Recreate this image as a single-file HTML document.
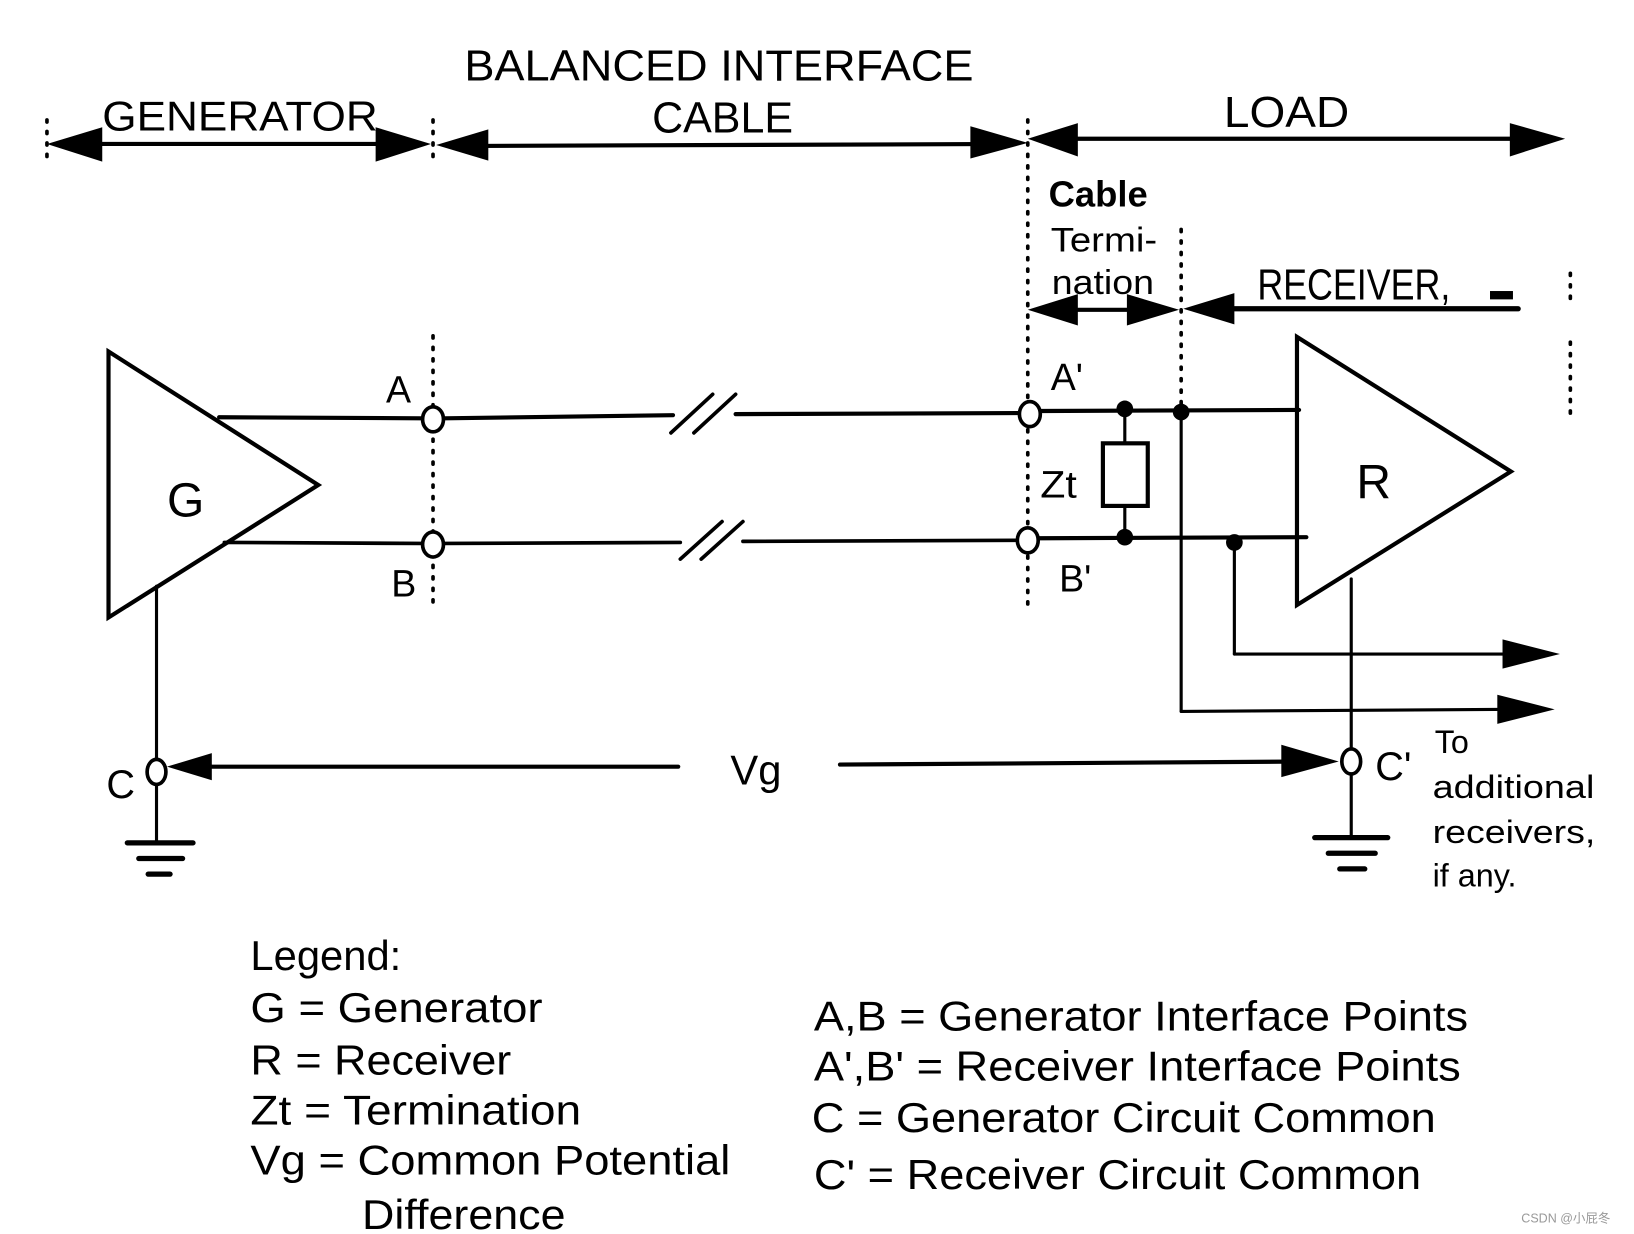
<!DOCTYPE html>
<html><head><meta charset="utf-8"><style>
html,body{margin:0;padding:0;background:#fff;}
svg{display:block;}
text{font-family:"Liberation Sans","Noto Sans CJK SC",sans-serif;fill:#000;}
</style></head><body>
<svg width="1634" height="1234" viewBox="0 0 1566 1183" preserveAspectRatio="none" xmlns="http://www.w3.org/2000/svg">
<g stroke="#000" fill="none" stroke-linecap="round">
<g stroke-width="3.5" stroke-dasharray="2 9">
<line x1="45" y1="115" x2="45" y2="150"/>
<line x1="415" y1="115" x2="415" y2="150"/>
<line x1="985" y1="115" x2="985" y2="585"/>
<line x1="1132" y1="220" x2="1132" y2="400"/>
<line x1="1505" y1="262" x2="1505" y2="292"/>
<line x1="1505" y1="328" x2="1505" y2="400"/>
<line x1="415" y1="322" x2="415" y2="585"/>
</g>
<line x1="60" y1="138" x2="400" y2="138" stroke-width="4"/>
<line x1="430" y1="140" x2="970" y2="138" stroke-width="4"/>
<line x1="1000" y1="133" x2="1485" y2="133" stroke-width="4"/>
<line x1="995" y1="297" x2="1120" y2="297" stroke-width="4"/>
<line x1="1145" y1="296" x2="1455" y2="296" stroke-width="5"/>
<line x1="210" y1="400" x2="404" y2="401" stroke-width="4"/>
<line x1="426" y1="401" x2="645" y2="398" stroke-width="4"/>
<line x1="705" y1="397" x2="976" y2="396" stroke-width="4"/>
<line x1="215" y1="520" x2="404" y2="521" stroke-width="3.5"/>
<line x1="426" y1="521" x2="652" y2="520" stroke-width="3.5"/>
<line x1="712" y1="519" x2="974" y2="518" stroke-width="3.5"/>
<line x1="643" y1="415" x2="683" y2="378" stroke-width="3.5"/>
<line x1="665" y1="415" x2="705" y2="378" stroke-width="3.5"/>
<line x1="652" y1="536" x2="692" y2="500" stroke-width="3.5"/>
<line x1="672" y1="536" x2="712" y2="500" stroke-width="3.5"/>
<line x1="998" y1="394" x2="1245" y2="393" stroke-width="4"/>
<line x1="996" y1="516" x2="1252" y2="515" stroke-width="4"/>
<line x1="1078" y1="392" x2="1078" y2="425" stroke-width="3"/>
<line x1="1078" y1="485" x2="1078" y2="515" stroke-width="3"/>
<rect x="1057" y="425" width="43" height="60" stroke-width="4"/>
<line x1="1132" y1="395" x2="1132" y2="682" stroke-width="3"/>
<line x1="1132" y1="682" x2="1450" y2="680" stroke-width="3"/>
<line x1="1183" y1="520" x2="1183" y2="627" stroke-width="3"/>
<line x1="1183" y1="627" x2="1450" y2="627" stroke-width="3"/>
<polygon points="104,337 305,465 104,592" stroke-width="4" stroke-linejoin="miter"/>
<polygon points="1243,323 1448,452 1243,580" stroke-width="4" stroke-linejoin="miter"/>
<line x1="150" y1="562" x2="150" y2="728" stroke-width="3"/>
<line x1="150" y1="752" x2="150" y2="808" stroke-width="3"/>
<line x1="122" y1="808" x2="185" y2="808" stroke-width="5"/>
<line x1="133" y1="823" x2="175" y2="823" stroke-width="5"/>
<line x1="142" y1="838" x2="163" y2="838" stroke-width="5"/>
<line x1="1295" y1="555" x2="1295" y2="718" stroke-width="3"/>
<line x1="1295" y1="742" x2="1295" y2="803" stroke-width="3"/>
<line x1="1260" y1="803" x2="1330" y2="803" stroke-width="5"/>
<line x1="1273" y1="818" x2="1318" y2="818" stroke-width="5"/>
<line x1="1284" y1="833" x2="1308" y2="833" stroke-width="5"/>
<line x1="185" y1="735" x2="650" y2="735" stroke-width="4"/>
<line x1="805" y1="733" x2="1255" y2="730" stroke-width="4"/>
<g stroke-width="3.5" fill="#fff">
<ellipse cx="415" cy="402" rx="10" ry="12"/>
<ellipse cx="415" cy="522" rx="10" ry="12"/>
<ellipse cx="987" cy="397" rx="10" ry="12"/>
<ellipse cx="985" cy="518" rx="10" ry="12"/>
<ellipse cx="150" cy="740" rx="9" ry="12"/>
<ellipse cx="1295" cy="730" rx="9" ry="12"/>
</g>
</g>
<g fill="#000">
<polygon points="45,138 98,122 98,155"/>
<polygon points="413,138 360,122 360,155"/>
<polygon points="418,139 468,124 468,154"/>
<polygon points="985,137 930,121 930,152"/>
<polygon points="985,133 1033,118 1033,150"/>
<polygon points="1500,133 1447,118 1447,150"/>
<polygon points="985,297 1033,282 1033,312"/>
<polygon points="1130,297 1080,282 1080,312"/>
<polygon points="1134,296 1183,281 1183,311"/>
<rect x="1428" y="279" width="22" height="8"/>
<polygon points="160,735 203,722 203,748"/>
<polygon points="1283,730 1228,714 1228,745"/>
<polygon points="1495,627 1440,613 1440,641"/>
<polygon points="1490,680 1435,666 1435,694"/>
<circle cx="1078" cy="392" r="8"/>
<circle cx="1132" cy="395" r="8"/>
<circle cx="1078" cy="515" r="8"/>
<circle cx="1183" cy="520" r="8"/>
</g>
<text x="98" y="125" font-size="40" textLength="264" lengthAdjust="spacingAndGlyphs">GENERATOR</text>
<text x="445" y="77" font-size="42" textLength="488" lengthAdjust="spacingAndGlyphs">BALANCED INTERFACE</text>
<text x="625" y="127" font-size="42" textLength="135" lengthAdjust="spacingAndGlyphs">CABLE</text>
<text x="1173" y="122" font-size="42" textLength="120" lengthAdjust="spacingAndGlyphs">LOAD</text>
<text x="1005" y="198" font-size="35" font-weight="bold" textLength="95" lengthAdjust="spacingAndGlyphs">Cable</text>
<text x="1007" y="241" font-size="33" textLength="102" lengthAdjust="spacingAndGlyphs">Termi-</text>
<text x="1008" y="282" font-size="33" textLength="98" lengthAdjust="spacingAndGlyphs">nation</text>
<text x="1205" y="287" font-size="42" textLength="185" lengthAdjust="spacingAndGlyphs">RECEIVER,</text>
<text x="370" y="386" font-size="36">A</text>
<text x="375" y="572" font-size="36">B</text>
<text x="1007" y="374" font-size="36">A'</text>
<text x="1015" y="567" font-size="36">B'</text>
<text x="997" y="477" font-size="36" textLength="35" lengthAdjust="spacingAndGlyphs">Zt</text>
<text x="160" y="495" font-size="46">G</text>
<text x="1300" y="478" font-size="46">R</text>
<text x="102" y="765" font-size="38">C</text>
<text x="1318" y="748" font-size="38">C'</text>
<text x="700" y="752" font-size="40">Vg</text>
<text x="1375" y="722" font-size="31">To</text>
<text x="1373" y="765" font-size="31" textLength="155" lengthAdjust="spacingAndGlyphs">additional</text>
<text x="1373" y="808" font-size="31" textLength="156" lengthAdjust="spacingAndGlyphs">receivers,</text>
<text x="1373" y="850" font-size="31">if any.</text>
<g font-size="40">
<text x="240" y="930">Legend:</text>
<text x="240" y="980" textLength="280" lengthAdjust="spacingAndGlyphs">G = Generator</text>
<text x="240" y="1030" textLength="250" lengthAdjust="spacingAndGlyphs">R = Receiver</text>
<text x="240" y="1078" textLength="317" lengthAdjust="spacingAndGlyphs">Zt = Termination</text>
<text x="240" y="1126" textLength="460" lengthAdjust="spacingAndGlyphs">Vg = Common Potential</text>
<text x="347" y="1178" textLength="195" lengthAdjust="spacingAndGlyphs">Difference</text>
<text x="780" y="988" textLength="627" lengthAdjust="spacingAndGlyphs">A,B = Generator Interface Points</text>
<text x="780" y="1036" textLength="620" lengthAdjust="spacingAndGlyphs">A',B' = Receiver Interface Points</text>
<text x="778" y="1085" textLength="598" lengthAdjust="spacingAndGlyphs">C = Generator Circuit Common</text>
<text x="780" y="1140" textLength="582" lengthAdjust="spacingAndGlyphs">C' = Receiver Circuit Common</text>
</g>
<text x="1458" y="1172" font-size="12" style="fill:#999">CSDN @小屁冬</text>
</svg>
</body></html>
